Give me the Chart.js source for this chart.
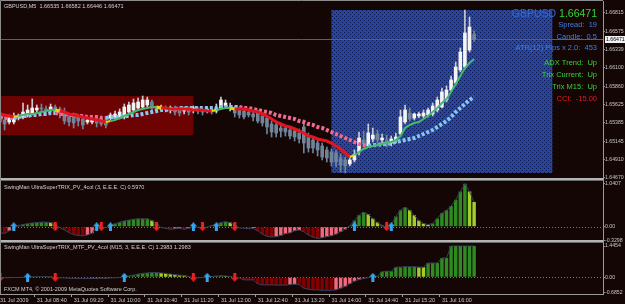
<!DOCTYPE html>
<html>
<head>
<meta charset="utf-8">
<title>GBPUSD M5</title>
<script src="https://cdn.jsdelivr.net/npm/chart.js@4.4.0/dist/chart.umd.min.js"></script>
<style>
  html, body { margin: 0; padding: 0; background: #150606; }
  #wrap { position: relative; width: 625px; height: 304px; }
</style>
</head>
<body>
<div id="wrap"><canvas id="chart" width="625" height="304"></canvas></div>
<script>
// time axis: one label every 8 bars (40 min on M5)
const timeTicks = ['31 Jul 2009', '31 Jul 08:40', '31 Jul 09:20', '31 Jul 10:00', '31 Jul 10:40', '31 Jul 11:20',
  '31 Jul 12:00', '31 Jul 12:40', '31 Jul 13:20', '31 Jul 14:00', '31 Jul 14:40', '31 Jul 15:20', '31 Jul 16:00'];
const slotCount = 132; // bars visible on screen incl. empty space on the right

// candles
const opens = [1.65515,1.65424,1.65398,1.65398,1.65463,1.65463,1.65489,1.65515,1.65554,1.65580,
  1.65567,1.65554,1.65593,1.65567,1.65528,1.65463,1.65476,1.65450,1.65437,1.65398,
  1.65398,1.65437,1.65437,1.65411,1.65450,1.65463,1.65463,1.65463,1.65528,1.65554,
  1.65580,1.65593,1.65619,1.65658,1.65580,1.65567,1.65580,1.65554,1.65580,1.65554,
  1.65541,1.65567,1.65554,1.65567,1.65554,1.65541,1.65554,1.65541,1.65580,1.65606,
  1.65580,1.65580,1.65567,1.65541,1.65528,1.65502,1.65528,1.65476,1.65450,1.65372,
  1.65359,1.65320,1.65320,1.65294,1.65281,1.65255,1.65333,1.65203,1.65164,1.65125,
  1.65086,1.65034,1.65008,1.64995,1.64930,1.64904,1.64852,1.64904,1.65008,1.65164,
  1.65086,1.65177,1.65242,1.65164,1.65164,1.65125,1.65164,1.65242,1.65398,1.65515,
  1.65450,1.65476,1.65476,1.65489,1.65502,1.65554,1.65593,1.65684,1.65814,1.65905,
  1.66074,1.66113,1.66334,1.66535];
const highs = [1.65554,1.65463,1.65489,1.65515,1.65502,1.65645,1.65619,1.65697,1.65619,1.65632,
  1.65606,1.65632,1.65619,1.65593,1.65580,1.65502,1.65515,1.65489,1.65476,1.65450,
  1.65463,1.65476,1.65476,1.65450,1.65515,1.65541,1.65567,1.65632,1.65658,1.65697,
  1.65710,1.65736,1.65723,1.65684,1.65606,1.65619,1.65606,1.65606,1.65606,1.65593,
  1.65593,1.65593,1.65606,1.65593,1.65580,1.65593,1.65580,1.65632,1.65723,1.65684,
  1.65645,1.65606,1.65593,1.65580,1.65567,1.65541,1.65554,1.65515,1.65476,1.65411,
  1.65398,1.65359,1.65346,1.65320,1.65320,1.65307,1.65424,1.65255,1.65203,1.65164,
  1.65125,1.65073,1.65047,1.65034,1.64982,1.64943,1.64930,1.65034,1.65268,1.65281,
  1.65372,1.65320,1.65294,1.65242,1.65229,1.65216,1.65255,1.65554,1.65619,1.65580,
  1.65515,1.65528,1.65554,1.65580,1.65645,1.65723,1.65840,1.65866,1.65996,1.66178,
  1.66360,1.66854,1.66763,1.66582];
const lows = [1.65320,1.65294,1.65372,1.65372,1.65424,1.65437,1.65463,1.65489,1.65528,1.65528,
  1.65502,1.65528,1.65528,1.65450,1.65372,1.65346,1.65320,1.65346,1.65307,1.65372,
  1.65372,1.65333,1.65346,1.65320,1.65424,1.65437,1.65437,1.65437,1.65515,1.65528,
  1.65554,1.65580,1.65593,1.65554,1.65515,1.65541,1.65528,1.65515,1.65489,1.65476,
  1.65502,1.65489,1.65515,1.65502,1.65489,1.65515,1.65502,1.65515,1.65567,1.65580,
  1.65541,1.65463,1.65450,1.65437,1.65463,1.65411,1.65385,1.65346,1.65242,1.65203,
  1.65203,1.65203,1.65216,1.65177,1.65151,1.65125,1.64995,1.65008,1.64995,1.64956,
  1.64904,1.64878,1.64826,1.64813,1.64748,1.64735,1.64826,1.64878,1.64969,1.65073,
  1.65073,1.65138,1.65125,1.65125,1.65073,1.65086,1.65125,1.65229,1.65372,1.65411,
  1.65424,1.65450,1.65450,1.65463,1.65476,1.65528,1.65580,1.65658,1.65788,1.65879,
  1.66048,1.66087,1.66308,1.66446];
const closes = [1.65398,1.65372,1.65450,1.65463,1.65476,1.65528,1.65554,1.65580,1.65580,1.65567,
  1.65541,1.65593,1.65567,1.65515,1.65411,1.65398,1.65385,1.65411,1.65359,1.65424,
  1.65424,1.65385,1.65372,1.65359,1.65489,1.65502,1.65528,1.65593,1.65619,1.65645,
  1.65658,1.65684,1.65684,1.65580,1.65554,1.65593,1.65554,1.65580,1.65528,1.65515,
  1.65567,1.65528,1.65580,1.65541,1.65528,1.65567,1.65528,1.65580,1.65684,1.65645,
  1.65593,1.65515,1.65489,1.65463,1.65489,1.65463,1.65411,1.65385,1.65333,1.65268,
  1.65255,1.65281,1.65268,1.65216,1.65203,1.65177,1.65125,1.65060,1.65060,1.65034,
  1.64943,1.64930,1.64878,1.64878,1.64839,1.64826,1.64904,1.64969,1.65190,1.65112,
  1.65255,1.65229,1.65164,1.65190,1.65099,1.65177,1.65203,1.65463,1.65554,1.65437,
  1.65502,1.65502,1.65515,1.65554,1.65606,1.65684,1.65788,1.65814,1.65944,1.66113,
  1.66308,1.66555,1.66633,1.66471];

// moving averages
const fastMa = [1.65502,1.65489,1.65476,1.65463,1.65476,1.65489,1.65502,1.65502,1.65515,1.65528,
  1.65541,1.65554,1.65554,1.65541,1.65528,1.65502,1.65489,1.65476,1.65463,1.65450,
  1.65437,1.65424,1.65411,1.65398,1.65411,1.65424,1.65450,1.65476,1.65502,1.65528,
  1.65554,1.65567,1.65580,1.65593,1.65593,1.65580,1.65580,1.65567,1.65567,1.65567,
  1.65567,1.65567,1.65554,1.65554,1.65554,1.65541,1.65541,1.65554,1.65567,1.65580,
  1.65580,1.65567,1.65567,1.65567,1.65554,1.65541,1.65528,1.65502,1.65476,1.65437,
  1.65398,1.65372,1.65346,1.65333,1.65307,1.65281,1.65255,1.65216,1.65203,1.65177,
  1.65164,1.65151,1.65125,1.65086,1.65047,1.64995,1.64943,1.64969,1.65008,1.65047,
  1.65073,1.65086,1.65099,1.65112,1.65125,1.65138,1.65164,1.65216,1.65320,1.65359,
  1.65385,1.65398,1.65437,1.65476,1.65528,1.65580,1.65645,1.65697,1.65788,1.65892,
  1.65996,1.66100,1.66165,1.66217];
const slowMa = [1.65463,1.65450,1.65450,1.65450,1.65463,1.65476,1.65476,1.65489,1.65489,1.65502,
  1.65502,1.65515,1.65515,1.65502,1.65502,1.65489,1.65489,1.65476,1.65476,1.65463,
  1.65463,1.65463,1.65450,1.65450,1.65463,1.65463,1.65463,1.65476,1.65476,1.65489,
  1.65489,1.65502,1.65515,1.65528,1.65541,1.65554,1.65554,1.65567,1.65567,1.65580,
  1.65580,1.65580,1.65580,1.65580,1.65580,1.65580,1.65580,1.65580,1.65593,1.65593,
  1.65593,1.65593,1.65593,1.65580,1.65580,1.65567,1.65554,1.65541,1.65528,1.65515,
  1.65489,1.65476,1.65463,1.65450,1.65437,1.65411,1.65398,1.65372,1.65359,1.65333,
  1.65320,1.65294,1.65268,1.65242,1.65216,1.65190,1.65164,1.65138,1.65112,1.65099,
  1.65086,1.65099,1.65099,1.65112,1.65112,1.65125,1.65138,1.65151,1.65164,1.65177,
  1.65190,1.65216,1.65242,1.65268,1.65294,1.65333,1.65372,1.65411,1.65463,1.65528,
  1.65580,1.65632,1.65684,1.65723];

const priceTicks = [1.66815, 1.66575, 1.66339, 1.66100, 1.65860, 1.65625, 1.65385, 1.65145, 1.64910, 1.64670];
const bidPrice = 1.66471;

// zones (bar index range, price range)
const sessionZone = { from: -1, to: 42, high: 1.65736, low: 1.65229 };
const signalZone = { from: 72, to: 120, high: 1.66854, low: 1.64735 };

// sub window 1: UltraSuperTRIX
const trixMain = [-0.15,-0.16,-0.10,-0.04,0.03,0.05,0.07,0.09,0.10,0.11,
  0.11,0.10,0.06,-0.02,-0.08,-0.14,-0.19,-0.21,-0.22,-0.20,
  -0.16,0.01,-0.01,-0.02,0.03,0.07,0.11,0.14,0.16,0.18,
  0.19,0.19,0.19,0.15,0.07,-0.02,-0.04,-0.06,-0.05,-0.04,
  -0.06,-0.04,0.01,-0.01,-0.02,-0.01,0.03,0.06,0.10,0.12,
  0.10,0.04,-0.03,-0.04,-0.05,-0.04,-0.10,-0.18,-0.23,-0.25,
  -0.24,-0.21,-0.17,-0.15,-0.10,-0.08,-0.12,-0.20,-0.25,-0.28,
  -0.27,-0.24,-0.22,-0.18,-0.12,-0.06,0.02,0.15,0.28,0.35,
  0.30,0.20,0.10,0.03,-0.01,0.04,0.25,0.40,0.47,0.40,
  0.28,0.15,0.08,0.05,0.08,0.20,0.33,0.40,0.50,0.65,
  0.85,1.0407,0.85,0.5970];
const trixMainTicks = [1.0407, 0, -0.3298];
const trixMainUp = [3, 21, 24, 42, 47, 77, 85];
const trixMainDown = [12, 22, 34, 44, 51, 84];

// sub window 2: UltraSuperTRIX MTF (M15)
const trixMtf = [-0.03,-0.02,-0.02,-0.01,-0.01,0.00,0.01,0.02,0.02,0.03,
  0.02,0.01,-0.01,-0.02,-0.03,-0.04,-0.05,-0.05,-0.06,-0.06,
  -0.05,-0.05,-0.04,-0.04,-0.03,-0.02,-0.01,0.02,0.06,0.10,
  0.15,0.18,0.20,0.22,0.22,0.20,0.18,0.15,0.12,0.10,
  0.08,0.04,-0.01,-0.02,-0.01,0.01,0.04,0.06,0.07,0.06,
  0.04,-0.01,-0.03,-0.12,-0.12,-0.12,-0.30,-0.35,-0.35,-0.35,
  -0.36,-0.36,-0.36,-0.34,-0.32,-0.33,-0.50,-0.55,-0.58,-0.58,
  -0.60,-0.60,-0.60,-0.58,-0.50,-0.42,-0.30,-0.18,-0.10,-0.05,
  -0.02,0.02,0.05,0.26,0.28,0.28,0.47,0.47,0.49,0.49,
  0.49,0.47,0.47,0.66,0.66,0.66,0.89,0.89,1.4454,1.4454,
  1.4454,1.4454,1.4454,1.4454];
const trixMtfTicks = [1.4454, 0, -0.6852];
const trixMtfUp = [6, 27, 45, 81];
const trixMtfDown = [0, 12, 42, 51];

const chartTitle = 'GBPUSD,M5  1.66535 1.66582 1.66446 1.66471';
const trixMainTitle = 'SwingMan UltraSuperTRIX_PV_4col (3, E.E.E. C) 0.5970';
const trixMtfTitle = 'SwingMan UltraSuperTRIX_MTF_PV_4col (M15, 3, E.E.E. C) 1.2983 1.2983';
const copyright = 'FXCM MT4, \u00a9 2001-2009 MetaQuotes Software Corp.';
const infoSymbol = 'GBPUSD';
const infoRows = ['Spread:  19', 'Candle:  0.5', 'ATR(12) Pips x 2.0:  453', 'ADX Trend:  Up',
  'Trix Current:  Up', 'Trix M15:  Up', 'CCI:  -15.00'];

// ---------- styling helpers ----------
const FONT = 'Liberation Sans';
const axisText = '#c8c8c8';

const labels = Array.from({ length: slotCount }, (_, i) =>
  i % 8 === 0 && timeTicks[i / 8] ? timeTicks[i / 8] : '');

const bodyColors = closes.map((c, i) => c >= opens[i] ? '#f4f4f4' : '#71859a');
const wickColors = closes.map((c, i) => c >= opens[i] ? '#c9cbd6' : '#71859a');

function directions(values) {
  const dirs = [];
  values.forEach((v, i) => {
    const d = i === 0 ? -1 : Math.sign(v - values[i - 1]);
    dirs.push(d === 0 ? (i === 0 ? -1 : dirs[i - 1]) : d);
  });
  return dirs;
}
const fastDir = directions(fastMa);
const slowDir = directions(slowMa);

function histColors(values) {
  const cols = [];
  values.forEach((v, i) => {
    const prev = i === 0 ? 0 : values[i - 1];
    let c;
    if (v >= 0) {
      c = v > prev ? '#2f8a22' : v < prev ? '#a4cc2c' : (cols[i - 1] || '#2f8a22');
    } else {
      c = v < prev ? '#820000' : v > prev ? '#f2687c' : (cols[i - 1] || '#820000');
    }
    cols.push(c);
  });
  return cols;
}

function makeArrow(color, down) {
  const c = document.createElement('canvas');
  c.width = 7; c.height = 9;
  const g = c.getContext('2d');
  g.fillStyle = color;
  g.beginPath();
  if (!down) {
    g.moveTo(3.5, 0); g.lineTo(7, 4); g.lineTo(5, 4); g.lineTo(5, 9);
    g.lineTo(2, 9); g.lineTo(2, 4); g.lineTo(0, 4);
  } else {
    g.moveTo(3.5, 9); g.lineTo(7, 5); g.lineTo(5, 5); g.lineTo(5, 0);
    g.lineTo(2, 0); g.lineTo(2, 5); g.lineTo(0, 5);
  }
  g.closePath();
  g.fill();
  return c;
}
const upArrow = makeArrow('#36a6ee', false);
const downArrow = makeArrow('#ee2020', true);

function arrowData(idx) {
  return Array.from({ length: closes.length }, (_, i) => idx.includes(i) ? 0 : null);
}

function dotPattern(ctx) {
  const c = document.createElement('canvas');
  c.width = 4; c.height = 4;
  const g = c.getContext('2d');
  g.fillStyle = '#2544a4';
  g.fillRect(0, 0, 4, 4);
  g.fillStyle = '#0c1646';
  g.fillRect(0, 0, 1, 1);
  g.fillRect(2, 2, 1, 1);
  return ctx.createPattern(c, 'repeat');
}

// zones, bid line and zero levels behind the data
const backdrop = {
  id: 'backdrop',
  beforeDatasetsDraw(chart) {
    const { ctx, chartArea, scales } = chart;
    const x = scales.x, y = scales.y;
    ctx.save();
    ctx.beginPath();
    ctx.rect(chartArea.left, y.top, chartArea.width, y.bottom - y.top);
    ctx.clip();
    const zone = (z, fill) => {
      const x0 = x.getPixelForValue(z.from), x1 = x.getPixelForValue(z.to);
      const y0 = y.getPixelForValue(z.high), y1 = y.getPixelForValue(z.low);
      ctx.fillStyle = fill;
      ctx.fillRect(x0, y0, x1 - x0, y1 - y0);
    };
    zone(sessionZone, '#6c0202');
    zone(signalZone, dotPattern(ctx));
    const by = Math.round(y.getPixelForValue(bidPrice)) + 0.5;
    ctx.strokeStyle = '#4d6675';
    ctx.lineWidth = 1;
    ctx.beginPath();
    ctx.moveTo(chartArea.left, by);
    ctx.lineTo(chartArea.right, by);
    ctx.stroke();
    ctx.restore();

    ctx.save();
    ctx.strokeStyle = '#7a7a7a';
    ctx.setLineDash([1, 2]);
    ['y1', 'y2'].forEach(id => {
      const zy = Math.round(scales[id].getPixelForValue(0)) + 0.5;
      ctx.beginPath();
      ctx.moveTo(chartArea.left, zy);
      ctx.lineTo(chartArea.right, zy);
      ctx.stroke();
    });
    ctx.restore();
  }
};

// separators, frame and texts on top
const overlay = {
  id: 'overlay',
  afterDraw(chart) {
    const { ctx, chartArea, scales } = chart;
    ctx.save();
    // window separators
    [scales.y.bottom, scales.y1.bottom].forEach(b => {
      ctx.fillStyle = '#b4b4b4';
      ctx.fillRect(0, Math.round(b) - 2, chartArea.right, 2);
      ctx.fillStyle = '#6a6a6a';
      ctx.fillRect(0, Math.round(b), chartArea.right, 1);
    });
    // frame
    ctx.strokeStyle = '#8c8c8c';
    ctx.lineWidth = 1;
    ctx.beginPath();
    ctx.moveTo(0.5, chartArea.bottom);
    ctx.lineTo(0.5, 0.5);
    ctx.lineTo(chartArea.right, 0.5);
    ctx.stroke();

    ctx.textBaseline = 'middle';
    ctx.textAlign = 'left';
    ctx.fillStyle = '#d2d2d2';
    ctx.font = '5.5px "' + FONT + '"';
    ctx.fillText(chartTitle, 4, 6);
    ctx.fillText(trixMainTitle, 4, scales.y1.top + 7);
    ctx.fillText(trixMtfTitle, 4, scales.y2.top + 6);
    ctx.fillText(copyright, 4, scales.y2.bottom - 5);

    // bid label on price axis
    const by = Math.round(scales.y.getPixelForValue(bidPrice));
    ctx.fillStyle = '#f2f2f2';
    ctx.fillRect(chartArea.right + 2, by - 3, 21, 7);
    ctx.fillStyle = '#000000';
    ctx.font = '5.2px "' + FONT + '"';
    ctx.fillText(bidPrice.toFixed(5), chartArea.right + 3, by + 0.5);

    // info panel
    const rx = chartArea.right - 6;
    ctx.textAlign = 'right';
    ctx.font = '10.5px "' + FONT + '"';
    const priceTxt = bidPrice.toFixed(5);
    const pw = ctx.measureText(priceTxt).width;
    ctx.fillStyle = '#34d634';
    ctx.fillText(priceTxt, rx, 14);
    ctx.fillStyle = '#2f6ad6';
    ctx.fillText(infoSymbol + ' ', rx - pw, 14);
    const rowY = [25, 37, 48, 63, 75, 87, 99];
    const rowColor = ['#3d7fe4', '#3d7fe4', '#3d7fe4', '#36d236', '#36d236', '#36d236', '#e41a1a'];
    ctx.font = '7.5px "' + FONT + '"';
    infoRows.forEach((t, i) => {
      ctx.fillStyle = rowColor[i];
      ctx.fillText(t, rx, rowY[i]);
    });
    ctx.restore();
  }
};

const tickFont = { family: FONT, size: 5.5 };
const sideFont = { family: FONT, size: 5.2 };
const sideAxis = (extra) => Object.assign({
  type: 'linear',
  position: 'right',
  stack: 'windows',
  afterFit: s => { s.width = 22; s.paddingTop = 0; s.paddingBottom = 0; },
  grid: { drawOnChartArea: false, tickLength: 2, color: '#8a8a8a' },
  border: { display: true, color: '#9a9a9a' }
}, extra);

new Chart(document.getElementById('chart'), {
  type: 'bar',
  data: {
    labels: labels,
    datasets: [
      {
        type: 'bar', label: 'wicks', yAxisID: 'y', order: 9, grouped: false,
        data: highs.map((h, i) => [lows[i], h]),
        backgroundColor: wickColors, barThickness: 1, borderWidth: 0
      },
      {
        type: 'bar', label: 'bodies', yAxisID: 'y', order: 8, grouped: false,
        data: opens.map((o, i) => [o, closes[i]]),
        backgroundColor: bodyColors, barThickness: 3, minBarLength: 1, borderWidth: 0
      },
      {
        type: 'line', label: 'slow MA', yAxisID: 'y', order: 7, data: slowMa,
        borderWidth: 4, borderDash: [3, 2], borderCapStyle: 'butt', pointRadius: 0, tension: 0,
        borderColor: '#f06b8f',
        segment: { borderColor: c => slowDir[c.p1DataIndex] > 0 ? '#86c6f2' : '#f06b8f' }
      },
      {
        type: 'line', label: 'fast MA', yAxisID: 'y', order: 6, data: fastMa,
        borderWidth: 3, pointRadius: 0, tension: 0, borderColor: '#e4141c',
        segment: {
          borderColor: c => {
            const i = c.p1DataIndex;
            if (fastDir[i] !== fastDir[i - 1]) return '#e8d800';
            return fastDir[i] > 0 ? '#44b86c' : '#e4141c';
          },
          borderWidth: c => fastDir[c.p1DataIndex] > 0 ? 2 : 3
        }
      },
      {
        type: 'bar', label: 'trix', yAxisID: 'y1', order: 5, grouped: false,
        data: trixMain, backgroundColor: histColors(trixMain),
        barPercentage: 0.75, categoryPercentage: 1, borderWidth: 0
      },
      {
        type: 'line', label: 'trix line', yAxisID: 'y1', order: 4, data: trixMain,
        borderColor: '#34425e', borderWidth: 1, pointRadius: 0, tension: 0
      },
      {
        type: 'line', label: 'trix up', yAxisID: 'y1', order: 1, data: arrowData(trixMainUp),
        showLine: false, pointStyle: upArrow, pointRadius: 3
      },
      {
        type: 'line', label: 'trix down', yAxisID: 'y1', order: 1, data: arrowData(trixMainDown),
        showLine: false, pointStyle: downArrow, pointRadius: 3
      },
      {
        type: 'bar', label: 'trix mtf', yAxisID: 'y2', order: 5, grouped: false,
        data: trixMtf, backgroundColor: histColors(trixMtf),
        barPercentage: 0.75, categoryPercentage: 1, borderWidth: 0
      },
      {
        type: 'line', label: 'trix mtf line', yAxisID: 'y2', order: 4, data: trixMtf,
        borderColor: '#34425e', borderWidth: 1, pointRadius: 0, tension: 0
      },
      {
        type: 'line', label: 'mtf up', yAxisID: 'y2', order: 1, data: arrowData(trixMtfUp),
        showLine: false, pointStyle: upArrow, pointRadius: 3
      },
      {
        type: 'line', label: 'mtf down', yAxisID: 'y2', order: 1, data: arrowData(trixMtfDown),
        showLine: false, pointStyle: downArrow, pointRadius: 3
      }
    ]
  },
  options: {
    responsive: false,
    animation: false,
    devicePixelRatio: 1,
    layout: { autoPadding: false, padding: { top: 1, left: 0, right: 0, bottom: 0 } },
    plugins: { legend: { display: false }, tooltip: { enabled: false } },
    scales: {
      x: {
        type: 'category',
        offset: false,
        afterFit: s => { s.height = 10; s.paddingLeft = 0; s.paddingRight = 0; },
        grid: {
          drawOnChartArea: false, tickLength: 3,
          color: ctx => labels[ctx.index] ? '#9a9a9a' : 'rgba(0,0,0,0)'
        },
        border: { display: true, color: '#9a9a9a' },
        ticks: {
          color: axisText, font: tickFont, autoSkip: false, maxRotation: 0, minRotation: 0,
          align: 'start', padding: 0
        }
      },
      y: sideAxis({
        stackWeight: 179, min: 1.64644, max: 1.66971,
        afterBuildTicks: s => { s.ticks = priceTicks.map(v => ({ value: v })); },
        ticks: { color: axisText, font: sideFont, padding: 0, callback: v => v.toFixed(5) }
      }),
      y1: sideAxis({
        stackWeight: 61.5, min: -0.358, max: 1.131,
        afterBuildTicks: s => { s.ticks = trixMainTicks.map(v => ({ value: v })); },
        ticks: { color: axisText, font: sideFont, padding: 0, callback: v => v === 0 ? '0.00' : String(v) }
      }),
      y2: sideAxis({
        stackWeight: 52.5, min: -0.771, max: 1.654,
        afterBuildTicks: s => { s.ticks = trixMtfTicks.map(v => ({ value: v })); },
        ticks: { color: axisText, font: sideFont, padding: 0, callback: v => v === 0 ? '0.00' : String(v) }
      })
    }
  },
  plugins: [backdrop, overlay]
});
</script>
</body>
</html>
